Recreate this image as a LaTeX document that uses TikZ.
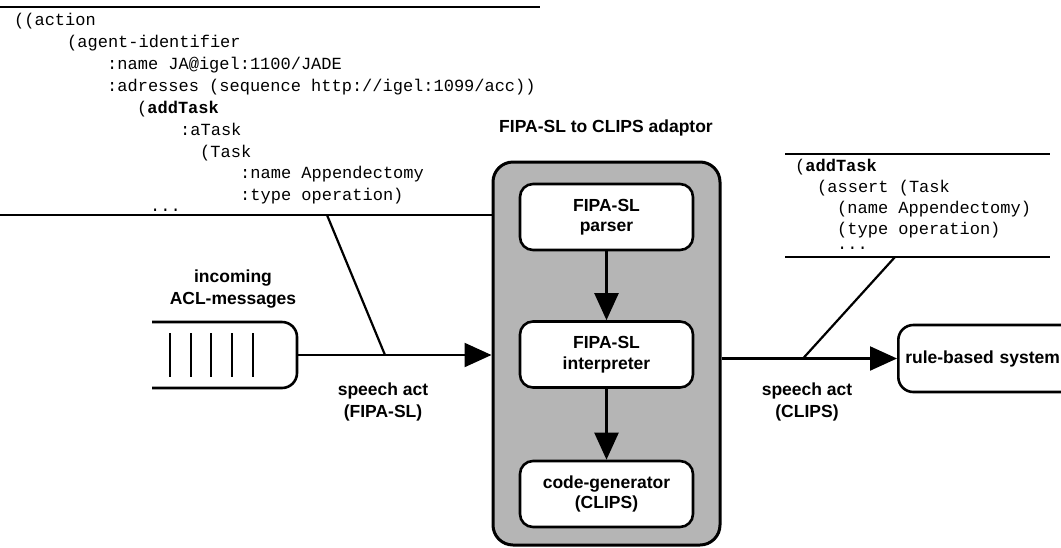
\documentclass[tikz,border=0pt]{standalone}
\usepackage{fontspec}
\setmainfont{Liberation Sans}
\newfontfamily\codefont{Liberation Mono}
\usetikzlibrary{arrows.meta}
\definecolor{boxgray}{RGB}{181,181,181}
\tikzset{
  codeline/.style={anchor=base west, inner sep=0pt, font=\codefont\fontsize{17}{21}\selectfont},
  rule/.style={line width=1.5pt},
  lbl/.style={align=center, font=\bfseries\fontsize{17.5}{21.5}\selectfont, inner sep=0pt},
  inbox/.style={draw, line width=2.6pt, fill=white, rounded corners=13pt, minimum width=173pt, minimum height=66pt, align=center, font=\bfseries\fontsize{17.5}{20.5}\selectfont},
  arr/.style={line width=2.2pt, -{Triangle[length=27pt,width=24pt]}},
  plain/.style={line width=2.2pt},
}
\begin{document}
\begin{tikzpicture}[x=1pt,y=-1pt]
\useasboundingbox (0,0) rectangle (1061,547);
\clip (0,0) rectangle (1061,547);
% left code block
\draw[rule] (0,7) -- (540,7);
\node[codeline] (c1) at (14,25) {((action};
\node[codeline] (c2) at (67,47) {(agent-identifier};
\node[codeline] (c3) at (107,69) {:name JA@igel:1100/JADE};
\node[codeline] (c4) at (107,91) {:adresses (sequence http://igel:1099/acc))};
\node[codeline] (c5) at (137,113) {({\bfseries addTask}};
\node[codeline] (c6) at (180,135) {:aTask};
\node[codeline] (c7) at (200,157) {(Task};
\node[codeline] (c8) at (240,178) {:name Appendectomy};
\node[codeline] (c9) at (240,200) {:type operation)};
\node[codeline] (c10) at (150,211) {...};
\draw[rule] (0,215) -- (493,215);
% right code block
\draw[rule] (785,154) -- (1050,154);
\node[codeline] (r1) at (795,171) {({\bfseries addTask}};
\node[codeline] (r2) at (817,192) {(assert (Task};
\node[codeline] (r3) at (837,213) {(name Appendectomy)};
\node[codeline] (r4) at (837,234) {(type operation)};
\node[codeline] (r5) at (837,249) {...};
\draw[rule] (785,257) -- (1050,257);
% container
\node[lbl] (title) at (606,128) {FIPA-SL to CLIPS adaptor};
\node[draw, line width=3pt, fill=boxgray, rounded corners=20pt, minimum width=227pt, minimum height=383pt] (cont) at (606.5,353.5) {};
\node[inbox] (parser) at (606.5,217) {FIPA-SL\\parser};
\node[inbox] (interp) at (606.5,354.5) {FIPA-SL\\interpreter};
\node[inbox] (gen) at (606.5,494) {code-generator\\(CLIPS)};
\draw[arr] (parser) -- (interp);
\draw[arr] (interp) -- (gen);
% queue
\draw[line width=2.6pt, rounded corners=15pt] (152,322) -- (297,322) -- (297,388) -- (152,388);
\coordinate (qr) at (297,355);
\foreach \bx in {170,191,211,232,253} \draw[line width=2.2pt] (\bx,333) -- (\bx,377);
\node[lbl] (inc) at (233,289) {incoming\\ACL-messages};
\draw[arr] (qr) -- (qr -| cont.west);
\coordinate (lj) at (385,355);
\coordinate (lt) at (327,215);
\draw[plain] (lj) -- (lt);
\node[lbl] (sa1) at (383,402) {speech act\\(FIPA-SL)};
% rule-based system
\node[draw, line width=2.6pt, rounded corners=15pt, anchor=west, minimum height=67pt, text width=165pt, inner xsep=7pt, align=left, font=\bfseries\fontsize{17.5}{20.5}\selectfont] (rbs) at (897,358.5) {rule-based system};
\draw[arr] (rbs.west -| cont.east) -- (rbs.west);
\coordinate (rj) at (803,358.5);
\coordinate (rt) at (895,257);
\draw[plain] (rj) -- (rt);
\node[lbl] (sa2) at (807,402) {speech act\\(CLIPS)};
\end{tikzpicture}
\end{document}
